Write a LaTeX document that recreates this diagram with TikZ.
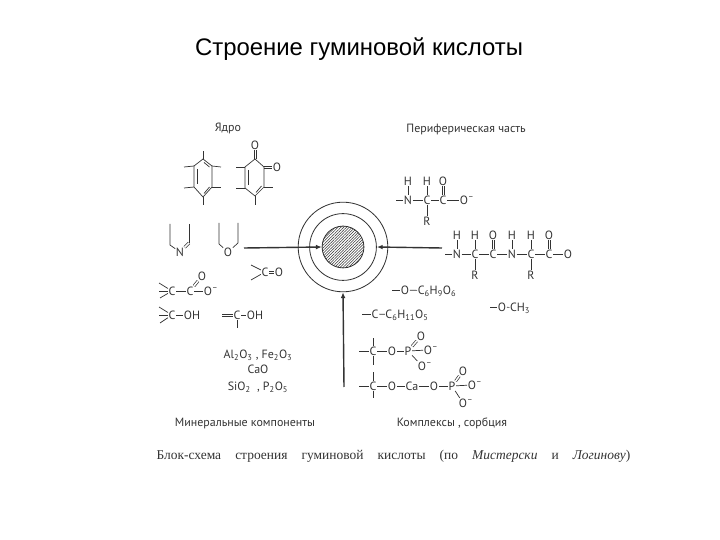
\documentclass[tikz,border=0pt]{standalone}
\usepackage{fontspec}
\usepackage{xcolor}
\setmainfont{Liberation Serif}
\newfontfamily\titlefont{Liberation Sans}
\newfontfamily\chemfont{PT Sans}
\usetikzlibrary{arrows.meta,patterns.meta}
\definecolor{inkGray}{HTML}{333333}
\newcommand{\lw}[1]{\textsubscript{#1}}
\newcommand{\chg}{\rlap{\textsuperscript{–}}}
\newcommand{\vdbl}[2]{\draw[bond] ([xshift=-0.85pt]#1) -- ([xshift=-0.85pt]#2); \draw[bond] ([xshift=0.85pt]#1) -- ([xshift=0.85pt]#2);}
\newcommand{\hdbl}[2]{\draw[bond] ([yshift=-0.85pt]#1) -- ([yshift=-0.85pt]#2); \draw[bond] ([yshift=0.85pt]#1) -- ([yshift=0.85pt]#2);}
\tikzset{
  atom/.style={inner sep=0.4pt, text=inkGray, font=\chemfont\fontsize{10.2}{11}\selectfont},
  heading/.style={inner sep=0pt, anchor=base, text=inkGray, font=\chemfont\fontsize{10.2}{12}\selectfont},
  bond/.style={draw=inkGray, line width=0.6pt},
  dbl/.style={bond, double=white, double distance=1.3pt, line width=0.6pt},
  feed/.style={draw=black!80, line width=1.2pt, -{Latex[length=5pt,width=4pt]}},
  ringline/.style={draw=inkGray, line width=0.7pt, circle, inner sep=0pt}
}
\begin{document}
\begin{tikzpicture}[x=0.03cm, y=-0.03cm]
    \useasboundingbox (0,0) rectangle (720,540);
    \node[inner sep=0pt, font=\titlefont\fontsize{20.4}{22}\selectfont] (title) at (359,49) {Строение гуминовой кислоты};

    \node[heading] (headCore) at (228,132) {Ядро};
    \node[heading] (headPeriph) at (466,133) {Периферическая часть};
    \node[heading] (headMineral) at (245,427) {Минеральные компоненты};
    \node[heading] (headComplex) at (452,427) {Комплексы , сорбция};
    \node[inner sep=0pt, text=inkGray, font=\fontsize{11.5}{13}\selectfont] (caption) at (393.5,456) {\makebox[404.5pt][s]{Блок-схема строения гуминовой кислоты (по \textit{Мистерски} и \textit{Логинову})}};

    \node[ringline, minimum size=76.5pt] (ringOut) at (343,247) {};
    \node[ringline, minimum size=57pt] (ringMid) at (343,247) {};
    \node[ringline, minimum size=35.7pt, pattern={Lines[angle=45,distance=1.7pt,line width=0.45pt]}, pattern color=inkGray] (ringCore) at (343,247) {};

    \coordinate (feedW) at (244,248);
    \coordinate (feedE) at (442,248);
    \coordinate (feedS) at (344,387);
    \draw[feed] (feedW) -- (ringCore.west);
    \draw[feed] (feedE) -- (ringMid.east);
    \draw[feed] (feedS) -- (ringOut.south);

    \coordinate (a1) at (203,159);
    \coordinate (a2) at (212,166);
    \coordinate (a3) at (212,187);
    \coordinate (a4) at (203,197);
    \coordinate (a5) at (194,187);
    \coordinate (a6) at (194,166);
    \draw[bond] (a1) -- (a2) -- (a3) -- (a4) -- (a5) -- (a6) -- cycle;
    \draw[bond] (a1) -- (203,151);
    \draw[bond] (a4) -- (203,205);
    \draw[bond] (a2) -- (221,167);
    \draw[bond] (a3) -- (221,187);
    \draw[bond] (a6) -- (184,167);
    \draw[bond] (a5) -- (184,188);
    \draw[bond] (197.5,169) -- (197.5,184);
    \draw[bond] (204,162.5) -- (209.5,167);
    \draw[bond] (204,193.5) -- (209.5,187);

    \coordinate (b1) at (255,159);
    \coordinate (b2) at (264,167);
    \coordinate (b3) at (264,187);
    \coordinate (b4) at (255,196);
    \coordinate (b5) at (245,188);
    \coordinate (b6) at (245,167);
    \draw[bond] (b1) -- (b2) -- (b3) -- (b4) -- (b5) -- (b6) -- cycle;
    \node[atom] (o1) at (255,145) {O};
    \node[atom] (o2) at (277,167) {O};
    \vdbl{o1.south}{b1}
    \hdbl{o2.west}{b2}
    \draw[bond] (b3) -- (273,187);
    \draw[bond] (b4) -- (255,205);
    \draw[bond] (b6) -- (236,167);
    \draw[bond] (b5) -- (236,188);
    \draw[bond] (248.5,170) -- (248.5,185.5);
    \draw[bond] (256,192.5) -- (261.5,186);

    \node[atom] (nPy) at (180,252) {N};
    \coordinate (nPyL) at (170,245);
    \coordinate (nPyR) at (189,243);
    \draw[bond] (170,224) -- (nPyL) -- (nPy);
    \draw[bond] (189,224) -- (nPyR);
    \draw[dbl] (nPy) -- (nPyR);

    \node[atom] (oPy) at (228,252) {O};
    \coordinate (oPyL) at (219,244);
    \coordinate (oPyR) at (238,243);
    \draw[bond] (219,223) -- (oPyL) -- (oPy);
    \draw[bond] (238,223) -- (oPyR) -- (oPy);

    \node[atom] (cKet) at (265,272) {C};
    \node[atom] (oKet) at (279,272) {O};
    \hdbl{cKet.east}{oKet.west}
    \draw[bond] (cKet) -- (251,265);
    \draw[bond] (cKet) -- (251,280);

    \node[atom] (cCarb) at (172,291) {C};
    \node[atom] (cCoo) at (190,291) {C};
    \node[atom] (oCooT) at (202,276) {O};
    \node[atom] (oCoo) at (208,291) {O\chg};
    \draw[bond] (cCarb) -- (cCoo);
    \draw[bond] (cCoo) -- (oCoo);
    \draw[dbl] (cCoo) -- (oCooT);
    \draw[bond] (cCarb) -- (159,283);
    \draw[bond] (cCarb) -- (159,291);
    \draw[bond] (cCarb) -- (160,298);

    \node[atom] (cOh) at (172,315) {C};
    \node[atom] (oH) at (192,315) {OH};
    \draw[bond] (cOh) -- (oH);
    \draw[bond] (cOh) -- (159,307);
    \draw[bond] (cOh) -- (159,315);
    \draw[bond] (cOh) -- (160,323);

    \node[atom] (cEn) at (237,315) {C};
    \node[atom] (oEn) at (255,315) {OH};
    \draw[bond] (cEn) -- (oEn);
    \hdbl{cEn.west}{222,315}
    \draw[bond] (cEn) -- (237,328);

    \node[atom] (alFe) at (258,355) {Al\lw{2}O\lw{3} , Fe\lw{2}O\lw{3}};
    \node[atom] (caO) at (258,369) {CaO};
    \node[atom] (siP) at (258,387) {SiO\lw{2} \ , P\lw{2}O\lw{5}};

    \node[atom] (n1) at (408,200) {N};
    \node[atom] (h1) at (408,181) {H};
    \node[atom] (c1) at (427,200) {C};
    \node[atom] (h2) at (427,181) {H};
    \node[atom] (r1) at (427,221) {R};
    \node[atom] (c2) at (443,200) {C};
    \node[atom] (o3) at (443,181) {O};
    \node[atom] (o4) at (464,200) {O\chg};
    \draw[bond] (396,200) -- (n1);
    \draw[bond] (n1) -- (c1);
    \draw[bond] (c1) -- (c2);
    \draw[bond] (c2) -- (o4);
    \draw[bond] (n1.north) -- (h1.south);
    \draw[bond] (c1.north) -- (h2.south);
    \draw[bond] (c1) -- (r1);
    \vdbl{c2.north}{o3.south}

    \node[atom] (n2) at (457,254) {N};
    \node[atom] (h3) at (457,235) {H};
    \node[atom] (c3) at (475,254) {C};
    \node[atom] (h4) at (475,235) {H};
    \node[atom] (r2) at (475,275) {R};
    \node[atom] (c4) at (493,254) {C};
    \node[atom] (o5) at (493,235) {O};
    \node[atom] (n3) at (512,254) {N};
    \node[atom] (h5) at (512,235) {H};
    \node[atom] (c5) at (531,254) {C};
    \node[atom] (h6) at (531,235) {H};
    \node[atom] (r3) at (531,275) {R};
    \node[atom] (c6) at (549,254) {C};
    \node[atom] (o6) at (549,235) {O};
    \node[atom] (o7) at (568,254) {O};
    \draw[bond] (445,254) -- (n2);
    \draw[bond] (n2) -- (c3);
    \draw[bond] (c3) -- (c4);
    \draw[bond] (c4) -- (n3);
    \draw[bond] (n3) -- (c5);
    \draw[bond] (c5) -- (c6);
    \draw[bond] (c6) -- (o7);
    \draw[bond] (n2.north) -- (h3.south);
    \draw[bond] (c3.north) -- (h4.south);
    \draw[bond] (c3) -- (r2);
    \vdbl{c4.north}{o5.south}
    \draw[bond] (n3.north) -- (h5.south);
    \draw[bond] (c5.north) -- (h6.south);
    \draw[bond] (c5) -- (r3);
    \vdbl{c6.north}{o6.south}

    \node[atom] (o8) at (405,290) {O};
    \node[atom] (sug1) at (437,291) {C\lw{6}H\lw{9}O\lw{6}};
    \draw[bond] (392,290) -- (o8);
    \draw[bond] (o8) -- (sug1);

    \node[atom] (c7) at (375,314) {C};
    \node[atom] (sug2) at (407,315) {C\lw{6}H\lw{11}O\lw{5}};
    \draw[bond] (362,314) -- (c7);
    \draw[bond] (c7) -- (sug2);

    \node[atom] (o9) at (502,307) {O};
    \node[atom] (ch3) at (520,308) {CH\lw{3}};
    \draw[bond] (490,307) -- (o9);
    \draw[bond] (o9) -- (ch3);

    \node[atom] (c8) at (373,351) {C};
    \node[atom] (o10) at (392,351) {O};
    \node[atom] (p1) at (408,351) {P};
    \node[atom] (o11) at (421,336) {O};
    \node[atom] (o12) at (428,350) {O\chg};
    \node[atom] (o13) at (422,366) {O\chg};
    \draw[bond] (359,351) -- (c8);
    \draw[bond] (c8) -- (373,338);
    \draw[bond] (c8) -- (373,365);
    \draw[bond] (c8) -- (o10);
    \draw[bond] (o10) -- (p1);
    \draw[dbl] (p1) -- (o11);
    \draw[bond] (p1) -- (o12);
    \draw[bond] (p1) -- (o13);

    \node[atom] (c9) at (373,386) {C};
    \node[atom] (o14) at (392,386) {O};
    \node[atom] (ca) at (412,386) {Ca};
    \node[atom] (o15) at (434,386) {O};
    \node[atom] (p2) at (452,386) {P};
    \node[atom] (o16) at (463,371) {O};
    \node[atom] (o17) at (472,385) {O\chg};
    \node[atom] (o18) at (463,403) {O\chg};
    \draw[bond] (359,386) -- (c9);
    \draw[bond] (c9) -- (373,372);
    \draw[bond] (c9) -- (373,398);
    \draw[bond] (c9) -- (o14);
    \draw[bond] (o14) -- (ca);
    \draw[bond] (ca) -- (o15);
    \draw[bond] (o15) -- (p2);
    \draw[dbl] (p2) -- (o16);
    \draw[bond] (p2) -- (o17);
    \draw[bond] (p2) -- (o18);
\end{tikzpicture}
\end{document}
